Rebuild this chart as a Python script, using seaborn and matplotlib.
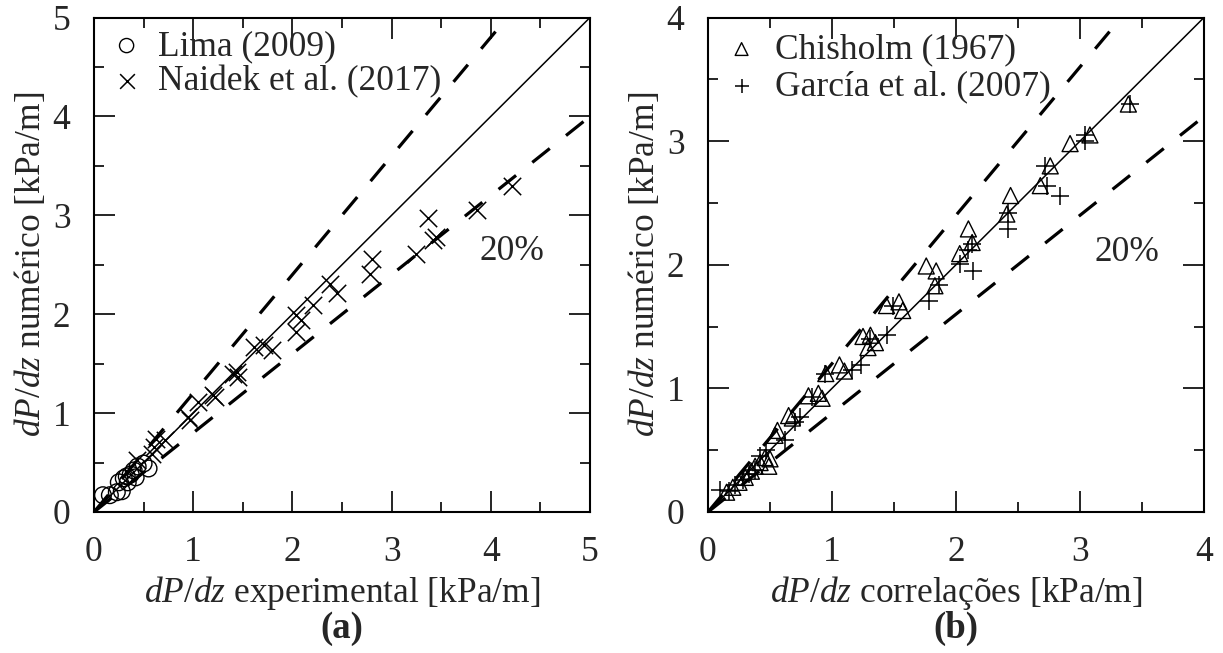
import numpy as np
import pandas as pd
import matplotlib
matplotlib.use("Agg")
import matplotlib.pyplot as plt
from matplotlib.ticker import MultipleLocator
import seaborn as sns

# ---- data: pressure gradient, numerical vs reference [kPa/m] ----
lima_x = [0.09, 0.16, 0.23, 0.28, 0.25, 0.30, 0.34, 0.37, 0.40, 0.44, 0.50, 0.55, 0.33, 0.42]
lima_y = [0.17, 0.17, 0.20, 0.21, 0.30, 0.34, 0.30, 0.38, 0.42, 0.46, 0.49, 0.44, 0.36, 0.35]

naidek_x = [0.43, 0.58, 0.60, 0.63, 0.72, 0.95, 0.97, 1.05, 1.20, 1.22, 1.40, 1.44, 1.45,
            1.61, 1.71, 1.79, 2.04, 2.09, 2.04, 2.21, 2.38, 2.45, 2.78, 2.80, 3.25, 3.42,
            3.45, 3.37, 3.86, 4.21]
naidek_y = [0.53, 0.59, 0.66, 0.74, 0.73, 0.96, 0.93, 1.11, 1.18, 1.16, 1.40, 1.42, 1.37,
            1.67, 1.69, 1.64, 1.99, 1.94, 1.82, 2.09, 2.31, 2.21, 2.41, 2.56, 2.61, 2.75,
            2.78, 2.97, 3.05, 3.30]

chisholm_x = [0.15, 0.20, 0.25, 0.30, 0.35, 0.38, 0.42, 0.46, 0.50, 0.49, 0.54, 0.56, 0.65,
              0.68, 0.81, 0.89, 0.92, 0.95, 1.06, 1.10, 1.25, 1.31, 1.29, 1.35, 1.44, 1.54,
              1.57, 1.76, 1.84, 1.83, 2.03, 2.10, 2.13, 2.41, 2.44, 2.68, 2.76, 2.92, 3.08, 3.39]
chisholm_y = [0.16, 0.20, 0.24, 0.28, 0.33, 0.37, 0.40, 0.44, 0.43, 0.37, 0.62, 0.66, 0.78,
              0.76, 0.94, 0.96, 0.92, 1.12, 1.19, 1.14, 1.42, 1.43, 1.33, 1.37, 1.67, 1.70,
              1.63, 1.99, 1.95, 1.83, 2.09, 2.29, 2.18, 2.41, 2.56, 2.64, 2.80, 2.98, 3.05, 3.30]

garcia_x = [0.10, 0.17, 0.22, 0.28, 0.33, 0.38, 0.42, 0.47, 0.62, 0.74, 0.70, 0.84, 0.94,
            1.16, 1.23, 1.31, 1.44, 1.49, 1.78, 1.86, 2.03, 2.10, 2.14, 2.13, 2.42, 2.42,
            2.72, 2.73, 2.84, 3.04, 3.04, 3.40]
garcia_y = [0.18, 0.17, 0.22, 0.26, 0.31, 0.34, 0.45, 0.50, 0.58, 0.77, 0.73, 0.93, 1.12,
            1.15, 1.19, 1.40, 1.43, 1.67, 1.71, 1.84, 2.01, 2.12, 1.95, 2.17, 2.42, 2.29,
            2.80, 2.64, 2.56, 3.05, 3.00, 3.30]

band = 0.20  # +/- 20 % deviation band

sns.set_theme(style="ticks")
plt.rcParams["font.family"] = ["Liberation Serif", "DejaVu Serif"]
plt.rcParams["mathtext.fontset"] = "custom"
plt.rcParams["mathtext.rm"] = "Liberation Serif"
plt.rcParams["mathtext.it"] = "Liberation Serif:italic"
plt.rcParams["mathtext.bf"] = "Liberation Serif:bold"

FS = 25.5

fig = plt.figure(figsize=(12.23, 6.53), dpi=100)
ax_a = fig.add_axes([94 / 1223, 1 - 512 / 653, 496 / 1223, 494.5 / 653])
ax_b = fig.add_axes([708 / 1223, 1 - 512 / 653, 496 / 1223, 494.5 / 653])


def reference_lines(ax, lim):
    xs = np.array([0.0, lim])
    ax.plot(xs, xs, color="black", lw=1.1, zorder=1)
    for f in (1 + band, 1 - band):
        ln, = ax.plot(xs, f * xs, color="black", lw=2.3, zorder=1, solid_capstyle="butt")
        ln.set_dashes((7.0, 6.5))
        ln.set_dash_capstyle("butt")


def style_axes(ax, lim, xlabel, tag):
    ax.set_xlim(0, lim)
    ax.set_ylim(0, lim)
    ax.xaxis.set_major_locator(MultipleLocator(1))
    ax.yaxis.set_major_locator(MultipleLocator(1))
    ax.xaxis.set_minor_locator(MultipleLocator(0.5))
    ax.yaxis.set_minor_locator(MultipleLocator(0.5))
    ax.tick_params(which="both", direction="in", top=True, right=True,
                   color="black", width=1.2)
    ax.tick_params(which="major", length=15, pad=17, labelsize=FS)
    ax.tick_params(which="minor", length=7.5)
    for s in ax.spines.values():
        s.set_linewidth(1.5)
        s.set_color("black")
    ax.set_xlabel(xlabel, fontsize=FS, labelpad=4)
    ax.set_ylabel(r"$dP/dz$ numérico [kPa/m]", fontsize=FS, labelpad=3)
    ax.text(0.5, -0.236, tag, transform=ax.transAxes, ha="center", va="center",
            fontsize=FS + 1, fontweight="bold")


# ---- panel (a): numerical vs experimental ----
reference_lines(ax_a, 5)
df_lima = pd.DataFrame({"x": lima_x, "y": lima_y})
df_naidek = pd.DataFrame({"x": naidek_x, "y": naidek_y})
sns.scatterplot(data=df_lima, x="x", y="y", ax=ax_a, marker="o", s=12 ** 2,
                facecolor="none", edgecolor="black", linewidth=1.0,
                label="Lima (2009)", zorder=3)
sns.scatterplot(data=df_naidek, x="x", y="y", ax=ax_a, marker="x", s=12.5 ** 2,
                color="black", linewidth=1.1, label="Naidek et al. (2017)", zorder=3)
style_axes(ax_a, 5, r"$dP/dz$ experimental [kPa/m]", "(a)")
ax_a.text(3.89, 2.63, "20%", fontsize=FS, ha="left", va="center")
ax_a.legend(loc="upper left", bbox_to_anchor=(0.03, 0.975), frameon=False,
            fontsize=FS, handlelength=1.0, handletextpad=0.4, labelspacing=0.05,
            borderpad=0, borderaxespad=0, markerscale=0.85)

# ---- panel (b): numerical vs correlations ----
reference_lines(ax_b, 4)
df_chis = pd.DataFrame({"x": chisholm_x, "y": chisholm_y})
df_garc = pd.DataFrame({"x": garcia_x, "y": garcia_y})
sns.scatterplot(data=df_chis, x="x", y="y", ax=ax_b, marker="^", s=11.5 ** 2,
                facecolor="none", edgecolor="black", linewidth=1.0,
                label="Chisholm (1967)", zorder=3)
sns.scatterplot(data=df_garc, x="x", y="y", ax=ax_b, marker="+", s=13 ** 2,
                color="black", linewidth=1.1, label="García et al. (2007)", zorder=3)
style_axes(ax_b, 4, r"$dP/dz$ correlações [kPa/m]", "(b)")
ax_b.text(3.12, 2.10, "20%", fontsize=FS, ha="left", va="center")
ax_b.legend(loc="upper left", bbox_to_anchor=(0.032, 0.968), frameon=False,
            fontsize=FS, handlelength=1.0, handletextpad=0.45, labelspacing=0.12,
            borderpad=0, borderaxespad=0, markerscale=0.8)

fig.savefig("out.png", dpi=100)
